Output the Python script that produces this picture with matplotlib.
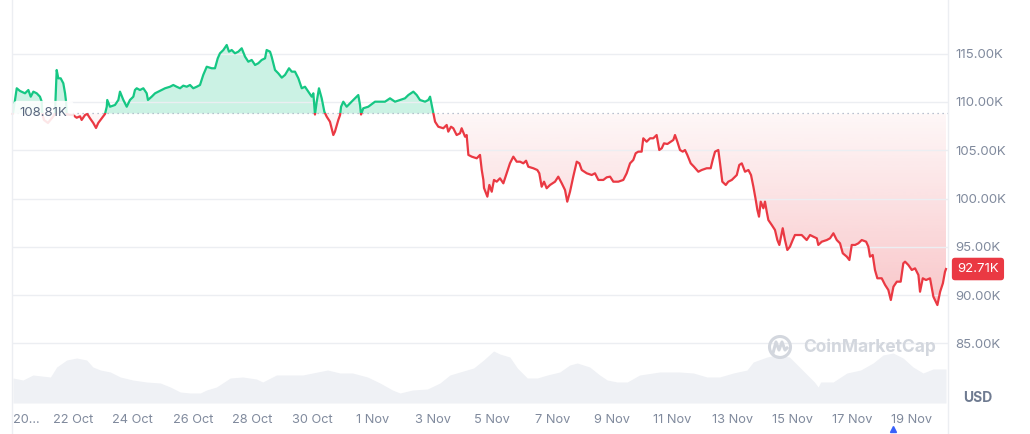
import matplotlib
matplotlib.use("Agg")
import matplotlib.pyplot as plt
import numpy as np
from matplotlib.colors import to_rgb
from matplotlib.patches import Polygon, Rectangle, Circle
from matplotlib.lines import Line2D

plt.rcParams['font.family'] = ['Inter', 'DejaVu Sans']

# hours since 20 Oct 00:00 and BTC price (thousand USD)
hours = [0.0, 3.0, 5.6, 9.6, 12.3, 14.2, 16.3, 19.0, 21.6, 23.0, 23.5, 24.8, 28.0, 31.2, 33.6,
         35.0, 36.3, 38.2, 40.3, 41.7, 42.5, 43.0, 48.1, 51.0, 53.7, 55.0, 57.7, 59.5, 61.7, 64.3,
         66.5, 68.3, 71.1, 73.7, 75.1, 75.5, 77.7, 81.7, 84.4, 85.7, 88.4, 91.1, 93.7, 96.4, 97.7,
         99.1, 101.7, 104.4, 107.1, 108.1, 111.1, 113.8, 116.4, 119.1, 121.8, 125.8, 128.4, 131.1,
         133.8, 136.4, 139.2, 141.8, 144.4, 147.2, 149.8, 152.4, 155.2, 159.2, 161.8, 164.0, 165.8,
         168.5, 171.2, 173.0, 175.2, 177.8, 180.5, 183.2, 185.9, 188.5, 191.2, 193.9, 196.5, 199.2,
         201.9, 203.2, 205.9, 207.2, 209.9, 212.5, 215.3, 217.9, 221.1, 223.3, 225.9, 228.6, 231.3,
         233.9, 236.6, 239.3, 240.6, 241.9, 243.3, 245.1, 247.3, 249.4, 251.3, 253.9, 256.6, 257.9,
         260.6, 262.0, 262.8, 264.6, 267.3, 270.0, 272.6, 275.3, 276.6, 278.0, 278.8, 280.6, 284.6,
         290.0, 294.0, 298.0, 302.0, 306.0, 310.0, 314.0, 316.7, 320.7, 323.4, 326.0, 330.1, 332.7,
         334.1, 335.4, 336.7, 338.1, 340.7, 344.7, 347.4, 348.7, 350.9, 352.7, 355.4, 358.1, 359.4,
         362.1, 363.4, 364.8, 367.5, 371.5, 374.1, 375.5, 376.8, 377.3, 380.0, 381.6, 383.5, 385.3,
         387.5, 390.1, 392.8, 395.5, 398.1, 400.8, 403.5, 406.2, 408.8, 411.0, 412.8, 416.8, 420.0,
         421.6, 423.5, 425.4, 427.5, 430.2, 434.2, 436.8, 439.6, 442.2, 444.0, 446.2, 448.8, 451.6,
         453.7, 455.6, 459.6, 463.6, 466.2, 468.9, 472.9, 475.6, 478.3, 480.9, 484.9, 488.9, 491.6,
         494.3, 496.9, 498.8, 500.9, 503.6, 504.9, 507.6, 510.3, 512.9, 515.6, 517.7, 519.7, 521.5,
         524.2, 526.9, 529.0, 530.3, 532.2, 534.3, 536.5, 538.3, 540.2, 542.9, 545.5, 549.0, 551.7,
         555.7, 558.9, 560.5, 562.4, 565.0, 566.4, 568.2, 571.0, 573.0, 575.8, 579.8, 581.8, 583.8,
         586.4, 589.1, 591.2, 593.1, 595.0, 596.3, 597.6, 599.0, 601.1, 602.4, 603.8, 605.1, 607.8,
         610.4, 612.3, 613.9, 616.6, 618.4, 620.3, 622.4, 624.6, 626.4, 629.9, 631.8, 635.8, 638.5,
         641.1, 643.9, 645.1, 647.9, 651.9, 654.5, 657.2, 659.9, 662.5, 664.7, 667.9, 670.0, 671.9,
         674.6, 677.2, 679.9, 683.4, 685.2, 686.5, 688.7, 690.5, 692.4, 695.9, 698.6, 701.2, 703.2,
         705.3, 708.0, 711.1, 713.2, 714.6, 717.2, 720.0, 722.6, 725.3, 726.6, 728.8, 731.4, 734.6,
         737.3, 740.5, 742.7, 744.9, 746.6, 747.4]
price = [108.81, 111.42, 111.14, 110.90, 111.24, 110.55, 111.07, 110.90, 110.55, 110.03, 108.70,
         108.14, 107.83, 108.34, 108.76, 113.31, 112.45, 112.45, 111.94, 110.90, 110.03, 108.70,
         108.65, 108.37, 108.52, 108.14, 108.65, 108.76, 108.31, 107.83, 107.31, 107.83, 108.31,
         108.76, 109.51, 110.21, 109.51, 109.69, 110.21, 111.07, 110.21, 109.51, 110.21, 110.55,
         111.24, 111.42, 111.24, 111.42, 110.90, 110.21, 110.55, 110.90, 111.07, 111.24, 111.42,
         111.58, 111.76, 111.58, 111.42, 111.69, 111.58, 111.76, 111.42, 111.58, 111.76, 112.80,
         113.65, 113.49, 113.49, 114.52, 115.04, 115.38, 115.90, 115.21, 115.38, 115.04, 115.21,
         115.56, 114.69, 114.17, 114.35, 113.83, 114.01, 114.35, 114.52, 115.38, 115.21, 114.69,
         113.31, 112.97, 112.52, 112.80, 113.49, 113.14, 113.14, 112.45, 111.42, 111.58, 111.07,
         110.55, 110.90, 108.70, 110.03, 111.42, 110.38, 109.00, 108.48, 107.96, 106.58, 106.93,
         108.14, 108.65, 109.51, 110.03, 109.51, 109.87, 110.21, 110.55, 110.72, 109.69, 108.70,
         109.35, 109.51, 110.03, 110.03, 110.03, 110.38, 110.03, 110.21, 110.38, 110.72, 111.07,
         110.72, 110.21, 110.03, 110.21, 110.55, 109.69, 108.83, 107.96, 107.44, 107.28, 107.62,
         106.93, 107.44, 107.28, 106.58, 106.76, 107.28, 106.41, 106.58, 104.52, 104.34, 104.17,
         104.52, 102.96, 101.93, 101.10, 100.20, 101.41, 100.71, 101.93, 101.75, 102.10, 101.58,
         102.62, 103.65, 104.34, 103.82, 103.82, 103.65, 103.92, 103.30, 103.14, 102.96, 102.62,
         101.23, 101.75, 101.07, 101.41, 101.75, 102.27, 101.58, 100.89, 99.68, 100.71, 102.27,
         103.82, 103.65, 102.96, 102.62, 102.44, 102.62, 101.93, 101.93, 102.20, 102.27, 101.75,
         101.75, 101.93, 102.62, 103.65, 104.00, 104.69, 104.86, 104.86, 106.24, 105.89, 106.24,
         106.24, 106.58, 105.03, 105.21, 105.72, 105.65, 105.89, 106.07, 106.58, 105.89, 105.03,
         104.86, 105.03, 104.51, 103.65, 103.30, 102.78, 102.96, 103.14, 103.14, 104.00, 104.86,
         105.03, 103.65, 101.75, 101.41, 101.75, 101.93, 102.44, 103.48, 103.65, 102.78, 102.96,
         102.44, 101.23, 99.86, 98.82, 98.13, 99.68, 99.00, 99.68, 98.64, 97.78, 97.27, 96.75,
         95.71, 95.20, 96.93, 95.71, 94.68, 95.02, 95.71, 96.23, 96.23, 96.23, 95.71, 96.23, 96.06,
         95.89, 95.20, 95.54, 95.71, 95.89, 96.41, 95.71, 95.37, 94.34, 93.99, 93.64, 95.20, 95.20,
         95.37, 95.71, 95.54, 95.02, 93.99, 94.16, 92.61, 91.75, 91.75, 91.06, 90.54, 89.50, 90.88,
         91.40, 91.40, 93.30, 93.47, 93.13, 92.61, 92.78, 92.09, 90.36, 91.75, 91.57, 91.75, 89.84,
         88.98, 90.36, 91.23, 92.43, 92.71]

# traded volume (relative units)
vol_hours = [0, 8, 16, 30, 35, 43, 51, 59, 64, 70, 78, 86, 96, 107, 118, 126, 134, 142, 150, 155,
             163, 174, 184, 195, 200, 211, 222, 232, 244, 252, 262, 272, 284, 294, 304, 310, 320,
             332, 342, 350, 358, 369, 377, 385, 390, 398, 404, 412, 420, 428, 438, 446, 452, 462,
             470, 476, 484, 492, 502, 518, 534, 545, 556, 566, 577, 588, 593, 604, 612, 622, 630,
             638, 642, 645, 647, 657, 668, 679, 689, 697, 705, 713, 721, 729, 737, 747.4]
volume = [25, 23, 28, 26, 36, 43, 45, 43, 36, 33, 31, 26, 23, 21, 20, 16, 11, 10, 10, 13,
          16, 25, 26, 24, 21, 28, 28, 28, 31, 33, 30, 30, 26, 20, 13, 10, 13,
          14, 20, 28, 31, 35, 43, 52, 49, 46, 35, 25, 25, 28, 31, 38, 40, 36,
          28, 23, 21, 21, 28, 31, 31, 30, 26, 26, 30, 33, 41, 46, 48, 46, 36,
          26, 21, 16, 21, 21, 30, 33, 40, 48, 50, 45, 36, 30, 34, 34]

tick_hours = [0, 48, 96, 144, 192, 240, 288, 336, 384, 432, 480, 528, 576, 624, 672, 720]
tick_labels = ["20...", "22 Oct", "24 Oct", "26 Oct", "28 Oct", "30 Oct", "1 Nov", "3 Nov",
               "5 Nov", "7 Nov", "9 Nov", "11 Nov", "13 Nov", "15 Nov", "17 Nov", "19 Nov"]
price_ticks = [85, 90, 95, 100, 105, 110, 115]
open_price = 108.81
last_price = 92.71

GREEN = '#16c784'
RED = '#ea3943'
GREY = '#808a9d'
LINE_GREY = '#eceef2'

fig = plt.figure(figsize=(10.3, 4.34), dpi=100)
pos = [12 / 1030, 31 / 434, 936 / 1030, 398 / 434]

# volume in the background
axv = fig.add_axes(pos)
axv.fill_between(vol_hours, volume, 0, color='#eff1f5', lw=0)
axv.set_xlim(-0.8, 749)
axv.set_ylim(0, 398)
axv.axis('off')

ax = fig.add_axes(pos)
ax.patch.set_alpha(0)
x = np.array(hours)
y = np.array(price)

# green area above the open price
ax.fill_between(x, y, open_price, where=y >= open_price, interpolate=True,
                color=GREEN, alpha=0.22, lw=0, zorder=1)

# red area below, with a vertical gradient
verts = np.column_stack([np.r_[x[0], x, x[-1]],
                         np.r_[open_price, np.minimum(y, open_price), open_price]])
poly = Polygon(verts, closed=True, fc='none', ec='none')
ax.add_patch(poly)
grad = np.zeros((256, 1, 4))
grad[..., :3] = to_rgb(RED)
grad[..., 3] = np.linspace(0.30, 0.04, 256)[:, None]
im = ax.imshow(grad, extent=[x[0], x[-1], 88, open_price], origin='lower',
               aspect='auto', zorder=1, interpolation='bilinear')
im.set_clip_path(poly)

# price line, green above / red below the open
top = Rectangle((-10, open_price), 800, 50, transform=ax.transData)
bot = Rectangle((-10, open_price - 50), 800, 50, transform=ax.transData)
lg, = ax.plot(x, y, color=GREEN, lw=1.6, zorder=3, solid_joinstyle='round')
lg.set_clip_path(top)
lr, = ax.plot(x, y, color=RED, lw=1.6, zorder=3, solid_joinstyle='round')
lr.set_clip_path(bot)

ax.axhline(open_price, color='#a6b0c3', lw=0.9, ls=(0, (1, 3)), zorder=2)

ax.set_xlim(-0.8, 749)
ax.set_ylim(78.84, 120.04)

ax.yaxis.tick_right()
ax.set_yticks(price_ticks)
ax.set_yticklabels([f"{v:.2f}K" for v in price_ticks])
ax.tick_params(axis='y', length=0, pad=5, labelsize=9.5, labelcolor=GREY)
ax.set_xticks(tick_hours)
ax.set_xticklabels(tick_labels)
ax.tick_params(axis='x', length=0, pad=8, labelsize=9.2, labelcolor=GREY)
ax.get_xticklabels()[0].set_horizontalalignment('left')
ax.grid(axis='y', color=LINE_GREY, lw=1, zorder=0)
for s in ax.spines.values():
    s.set_visible(False)

# open price tag on the left
ax.text(0.008, open_price, "108.81K", transform=ax.get_yaxis_transform(),
        ha='left', va='center', fontsize=9.5, color='#58667e', zorder=4,
        bbox=dict(boxstyle='round,pad=0.5,rounding_size=0.35', fc='white', ec='none', alpha=0.88))

# last price tag on the right
ax.text(1.032, last_price, f"{last_price:.2f}K", transform=ax.get_yaxis_transform(),
        ha='center', va='center', fontsize=9.5, color='white', clip_on=False, zorder=5,
        bbox=dict(boxstyle='round,pad=0.4,rounding_size=0.25', fc=RED, ec='none'))

fig.text(978 / 1030, (434 - 398) / 434, "USD", ha='center', va='center',
         fontsize=10, fontweight='bold', color='#6f7b91')

# frame lines
fig.add_artist(Line2D([12 / 1030, 12 / 1030], [0, 1], color=LINE_GREY, lw=1))
fig.add_artist(Line2D([948 / 1030, 948 / 1030], [0, 1], color=LINE_GREY, lw=1))

# event marker
ax.plot(705, -0.065, marker='^', ms=5, color='#3861fb', transform=ax.get_xaxis_transform(),
        clip_on=False, zorder=5)

# watermark
wm = '#d3d7de'
fig.add_artist(Circle((7.80, 0.87), 0.105, transform=fig.dpi_scale_trans,
                      fill=False, ec=wm, lw=2.2))
fig.add_artist(Line2D([7.73, 7.76, 7.79, 7.82, 7.85, 7.87], [0.81, 0.92, 0.84, 0.92, 0.84, 0.86],
                      transform=fig.dpi_scale_trans, color=wm, lw=2.2, solid_joinstyle='round'))
fig.text(8.03 / 10.3, 0.87 / 4.34, "CoinMarketCap", ha='left', va='center',
         fontsize=12.5, fontweight='bold', color=wm)

fig.savefig("out.png", dpi=100)
